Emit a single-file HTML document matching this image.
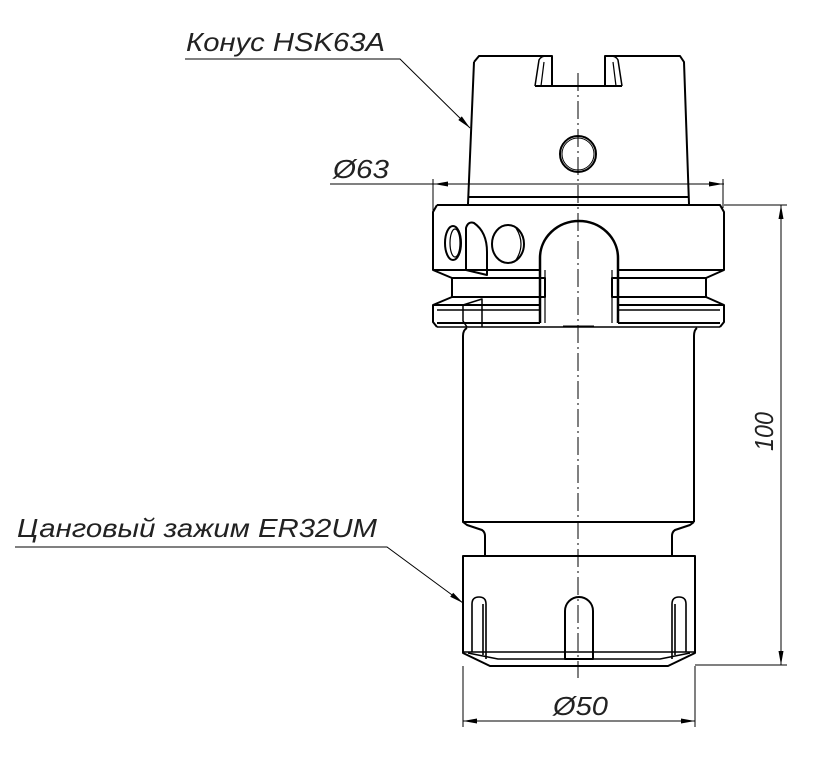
<!DOCTYPE html>
<html><head><meta charset="utf-8"><style>
html,body{margin:0;padding:0;background:#fff;}
svg{display:block;}
text{font-family:"Liberation Sans","DejaVu Sans",sans-serif;font-style:italic;fill:#222;}
</style></head><body>
<svg width="837" height="764" viewBox="0 0 837 764" xmlns="http://www.w3.org/2000/svg">
<g fill="none" stroke="#000" stroke-width="2" stroke-linejoin="round">
<!-- cone -->
<path d="M474,62 L479,56 L552,56 L552,86 M605,86 L605,56 L680,56 L684,62 L689,204 M474,62 L468,204"/>
<path d="M468,197 L689,197"/>
<path d="M535,86 L622,86"/>
<path d="M535,86 L539,60 Q541,56 546,56" stroke-width="1.5"/>
<path d="M541,86 L544,62" stroke-width="1.2"/>
<path d="M622,86 L618,60 Q616,56 611,56" stroke-width="1.5"/>
<path d="M616,86 L613,62" stroke-width="1.2"/>
<circle cx="578" cy="154" r="18"/>
<circle cx="578" cy="154" r="16" stroke-width="1"/>
<!-- flange -->
<path d="M437,205 L720,205 L724,212 L724,270 L706,278 L706,297 L724,305 L724,322 L720,327 M437,205 L433,212 L433,270 L452,278 L452,297 L433,305 L433,322 L437,327"/>
<path d="M433,270 L540,270 M618,270 L724,270"/>
<path d="M452,278 L545,278 L545,297 L452,297 M706,278 L612,278 L612,297 L706,297"/>
<path d="M433,305 L540,305 M618,305 L724,305"/>
<path d="M437,310 L540,310 M618,310 L720,310" stroke-width="1.5"/>
<path d="M437,323 L540,323 M618,323 L720,323"/>
<path d="M437,327 L720,327" stroke-width="1.5"/>
<path d="M540,323 L540,258 A39,37 0 0 1 618,258 L618,323" stroke-width="2.5"/>
<path d="M545,270 L545,323 M612,270 L612,323" stroke-width="1.2"/>
<path d="M563,326 L594,326" stroke-width="1"/>
<!-- left holes -->
<ellipse cx="453" cy="243" rx="8" ry="17"/>
<ellipse cx="455" cy="243" rx="5" ry="14" stroke-width="1.2"/>
<path d="M466,228 Q468,221 474,223 Q487,232 487,252 L487,275 L466,270 Z"/>
<ellipse cx="508" cy="244" rx="16" ry="19"/>
<path d="M516,228 Q526,244 516,260" stroke-width="1.2"/>
<path d="M463,305 L482,299 L482,327 M463,305 L463,321 L467,327" stroke-width="1.5"/>
<!-- neck -->
<path d="M467,328 Q463,330 463,336 L463,522 L694,522 M697,328 Q694,330 694,336 L694,522"/>
<path d="M463,522 L467,525 L482,530 Q485,532 485,536 L485,556 M694,522 L690,525 L675,530 Q672,532 672,536 L672,556"/>
<!-- nut -->
<path d="M463,653 L463,556 L695,556 L695,653 L668,666 L490,666 Z"/>
<path d="M463,652 L695,652" stroke-width="1.5"/>
<path d="M468,653 L498,659 L660,659 L690,653" stroke-width="1.5"/>
<path d="M472,652 L472,604 Q472,597 479,597 Q486,597 486,604 L486,659 M483,604 L483,655" stroke-width="1.6"/>
<path d="M565,659 L565,611 A14,14 0 0 1 593,611 L593,659 Z"/>
<path d="M672,659 L672,604 Q672,597 679,597 Q686,597 686,604 L686,652 M675,604 L675,655" stroke-width="1.6"/>
</g>
<!-- centerline -->
<path d="M578,73 L578,678" stroke="#000" stroke-width="1" stroke-dasharray="18,4,2,4" fill="none"/>
<!-- thin dimension lines -->
<g stroke="#000" stroke-width="1" fill="none">
<path d="M330,184 L724,184"/>
<path d="M433,179 L433,212 M723,179 L723,208"/>
<path d="M724,205 L787,205 M695,665 L787,665"/>
<path d="M781,205 L781,665"/>
<path d="M463,666 L463,727 M695,666 L695,727"/>
<path d="M463,721 L695,721"/>
<path d="M185,59 L400,59 L470,128"/>
<path d="M15,547 L387,547 L463,603"/>
</g>
<g fill="#000">
<polygon points="434,184 448,181.5 448,186.5"/>
<polygon points="723,184 709,181.5 709,186.5"/>
<polygon points="463,721 477,718.5 477,723.5"/>
<polygon points="695,721 681,718.5 681,723.5"/>
<polygon points="781,205 778.5,219 783.5,219"/>
<polygon points="781,665 778.5,651 783.5,651"/>
<polygon points="470,128 458.3,120.0 461.8,116.4"/>
<polygon points="463,603 450.2,596.7 453.2,592.7"/>
</g>
<!-- labels -->
<text x="186" y="51" font-size="26" textLength="199" lengthAdjust="spacingAndGlyphs">Конус HSK63A</text>
<text x="333" y="178" font-size="26" textLength="56" lengthAdjust="spacingAndGlyphs">Ø63</text>
<text x="17" y="537" font-size="26" textLength="360" lengthAdjust="spacingAndGlyphs">Цанговый зажим ER32UM</text>
<text x="553" y="715" font-size="26" textLength="55" lengthAdjust="spacingAndGlyphs">Ø50</text>
<text transform="translate(773,451) rotate(-90)" x="0" y="0" font-size="26" textLength="39" lengthAdjust="spacingAndGlyphs">100</text>
</svg>
</body></html>
